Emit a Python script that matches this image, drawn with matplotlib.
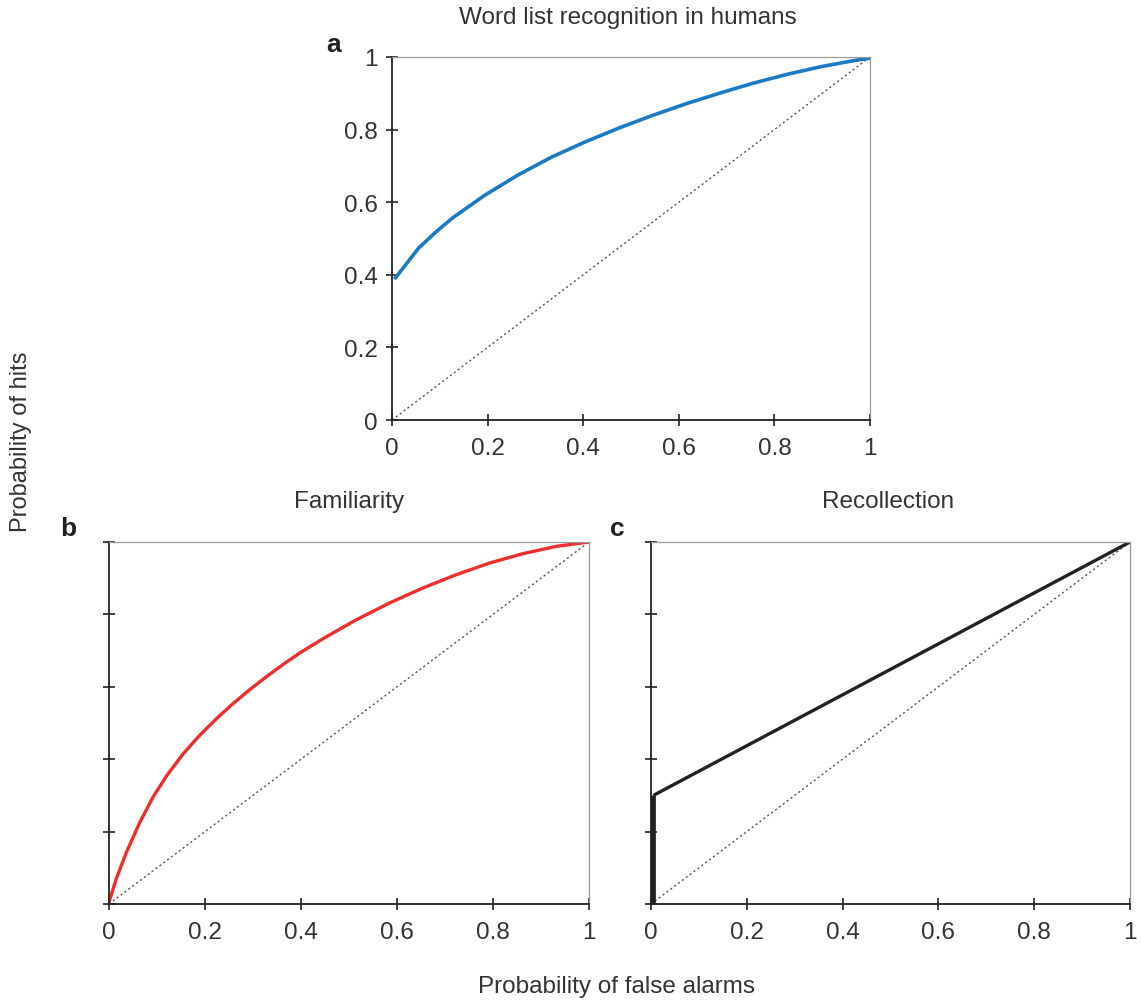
import numpy as np
import matplotlib as mpl
mpl.use('Agg')
import matplotlib.pyplot as plt

plt.rcParams['font.family'] = ['Liberation Sans', 'DejaVu Sans']

# panel a: word list recognition in humans
fa_a = [0.005, 0.056, 0.091, 0.126, 0.195, 0.265, 0.335, 0.404, 0.476,
        0.547, 0.617, 0.687, 0.756, 0.826, 0.896, 0.966, 1.0]
hit_a = [0.388, 0.474, 0.517, 0.556, 0.620, 0.676, 0.725, 0.766, 0.805,
         0.840, 0.872, 0.901, 0.928, 0.952, 0.973, 0.990, 0.997]

# panel b: familiarity
fa_b = [0.0, 0.015, 0.036, 0.064, 0.092, 0.120, 0.154, 0.189, 0.224, 0.258,
        0.293, 0.328, 0.363, 0.397, 0.446, 0.515, 0.585, 0.654, 0.724, 0.793,
        0.863, 0.932, 1.0]
hit_b = [0.005, 0.069, 0.142, 0.225, 0.296, 0.354, 0.414, 0.466, 0.512, 0.553,
         0.592, 0.628, 0.662, 0.693, 0.733, 0.785, 0.832, 0.873, 0.910, 0.942,
         0.968, 0.988, 1.0]

# panel c: recollection
fa_c = [0.005, 0.005, 1.0]
hit_c = [0.0, 0.30, 1.0]

xticks = [0, 0.2, 0.4, 0.6, 0.8, 1]
xticklabels = ['0', '0.2', '0.4', '0.6', '0.8', '1']
yticks = [0, 0.2, 0.4, 0.6, 0.8, 1]

W, H = 1141, 1003
fig = plt.figure(figsize=(W / 100, H / 100), dpi=100)

def box(x0, y0, x1, y1):
    return [x0 / W, 1 - y1 / H, (x1 - x0) / W, (y1 - y0) / H]

def style(ax, ylabels):
    ax.set_xlim(0, 1)
    ax.set_ylim(0, 1)
    ax.set_xticks(xticks)
    ax.set_xticklabels(xticklabels)
    ax.set_yticks(yticks)
    if ylabels:
        ax.set_yticklabels(xticklabels)
    else:
        ax.set_yticklabels([])
    ax.tick_params(direction='inout', length=9, width=1.2, color='#222222',
                   labelsize=17.5, labelcolor='#333333')
    ax.tick_params(axis='x', pad=8)
    ax.tick_params(axis='y', pad=6)
    for s in ['left', 'bottom']:
        ax.spines[s].set_color('#222222')
        ax.spines[s].set_linewidth(1.3)
    for s in ['top', 'right']:
        ax.spines[s].set_color('#999999')
        ax.spines[s].set_linewidth(0.9)
    ax.plot([0, 1], [0, 1], linestyle=(0, (1.5, 2)), color='#555555', lw=1.0)

ax_a = fig.add_axes(box(392, 58, 870, 421))
style(ax_a, True)
ax_a.plot(fa_a, hit_a, color='#1a7bc4', lw=2.6, solid_capstyle='butt')

ax_b = fig.add_axes(box(109, 543, 589, 905))
style(ax_b, False)
ax_b.plot(fa_b, hit_b, color='#ee2e2e', lw=2.4, solid_capstyle='butt')

ax_c = fig.add_axes(box(651, 543, 1130, 905))
style(ax_c, False)
ax_c.plot(fa_c[:2], hit_c[:2], color='#222222', lw=3.4, solid_capstyle='butt')
ax_c.plot(fa_c[1:], hit_c[1:], color='#222222', lw=2.4, solid_capstyle='butt')

fig.text(628 / W, 1 - 18 / H, 'Word list recognition in humans', ha='center', va='center',
         fontsize=17.5, color='#333333')
fig.text(349 / W, 1 - 502 / H, 'Familiarity', ha='center', va='center',
         fontsize=17.5, color='#333333')
fig.text(888 / W, 1 - 502 / H, 'Recollection', ha='center', va='center',
         fontsize=17.5, color='#333333')
fig.text(334 / W, 1 - 45 / H, 'a', ha='center', va='center', fontsize=19,
         fontweight='bold', color='#222222')
fig.text(68 / W, 1 - 529 / H, 'b', ha='center', va='center', fontsize=19,
         fontweight='bold', color='#222222')
fig.text(617 / W, 1 - 529 / H, 'c', ha='center', va='center', fontsize=19,
         fontweight='bold', color='#222222')
fig.text(21 / W, 1 - 442 / H, 'Probability of hits', ha='center', va='center',
         rotation=90, fontsize=17, color='#333333')
fig.text(617 / W, 1 - 987 / H, 'Probability of false alarms', ha='center', va='center',
         fontsize=17.5, color='#333333')

plt.savefig('out.png', dpi=100)
plt.close()
